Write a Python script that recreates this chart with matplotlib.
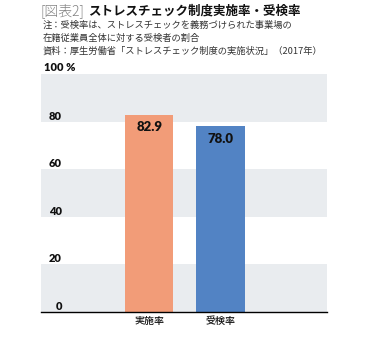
import matplotlib
matplotlib.use("Agg")
from matplotlib import pyplot as plt

# data
categories = ["実施率", "受検率"]
values = [82.9, 78.0]
bar_colors = ["#F29C78", "#5283C4"]
tick_values = [0, 20, 40, 60, 80, 100]
tick_labels = ["0", "20", "40", "60", "80", "100 %"]

title_tag = "[図表2]"
title_main = "ストレスチェック制度実施率・受検率"
notes = [
    "注：受検率は、ストレスチェックを義務づけられた事業場の",
    "在籍従業員全体に対する受検者の割合",
    "資料：厚生労働省「ストレスチェック制度の実施状況」（2017年）",
]

jp = ["Noto Sans CJK JP", "DejaVu Sans"]
num = ["Lato", "DejaVu Sans"]

fig = plt.figure(figsize=(3.71, 3.38), dpi=100)
ax = fig.add_axes([41 / 371, 1 - 312 / 338, 286 / 371, 238 / 338])

# alternating background bands
for i in range(len(tick_values) - 1):
    if i % 2 == 0:
        ax.axhspan(tick_values[i], tick_values[i + 1], color="#E9ECEF", lw=0, zorder=0)

x = list(range(len(categories)))
bars = ax.bar(x, values, width=0.684, color=bar_colors, zorder=2)
for b, v in zip(bars, values):
    ax.annotate(f"{v:.1f}", xy=(b.get_x() + b.get_width() / 2, v),
                xytext=(0, -9), textcoords="offset points",
                ha="center", va="center", fontsize=9.5, fontweight="heavy",
                family=num, color="#111111", zorder=3)

ax.set_xlim(-1.52, 2.50)
ax.set_ylim(0, 100)
ax.set_yticks([])
ax.set_xticks(x)
ax.set_xticklabels(categories, family=jp, fontsize=7.2, color="#111111", fontweight="medium")
ax.tick_params(axis="x", length=0, pad=3)

for s in ["top", "right", "left"]:
    ax.spines[s].set_visible(False)
ax.spines["bottom"].set_color("black")
ax.spines["bottom"].set_linewidth(1.0)

# y labels sit inside the plot, just above each band line
for v, lab in zip(tick_values, tick_labels):
    if lab.endswith("%"):
        ax.annotate(lab, xy=(0.01, v), xycoords=("axes fraction", "data"),
                    xytext=(0, 4.5), textcoords="offset points", ha="left", va="center",
                    fontsize=8, fontweight="heavy", family=num, color="#111111",
                    annotation_clip=False)
    else:
        ax.annotate(lab, xy=(0.073, v), xycoords=("axes fraction", "data"),
                    xytext=(0, 4), textcoords="offset points", ha="right", va="center",
                    fontsize=8, fontweight="heavy", family=num, color="#111111")

fig.text(40 / 371, 1 - 11 / 338, title_tag, family=jp, fontsize=10, color="#808080",
         va="center", ha="left", fontweight="light")
fig.text(88 / 371, 1 - 11 / 338, title_main, family=jp, fontsize=9, color="#111111",
         va="center", ha="left", fontweight="bold")
for i, line in enumerate(notes):
    fig.text(43 / 371, 1 - (25 + 13 * i) / 338, line, family=jp, fontsize=6.7,
             color="#333333", va="center", ha="left")

fig.savefig("out.png", dpi=100)
